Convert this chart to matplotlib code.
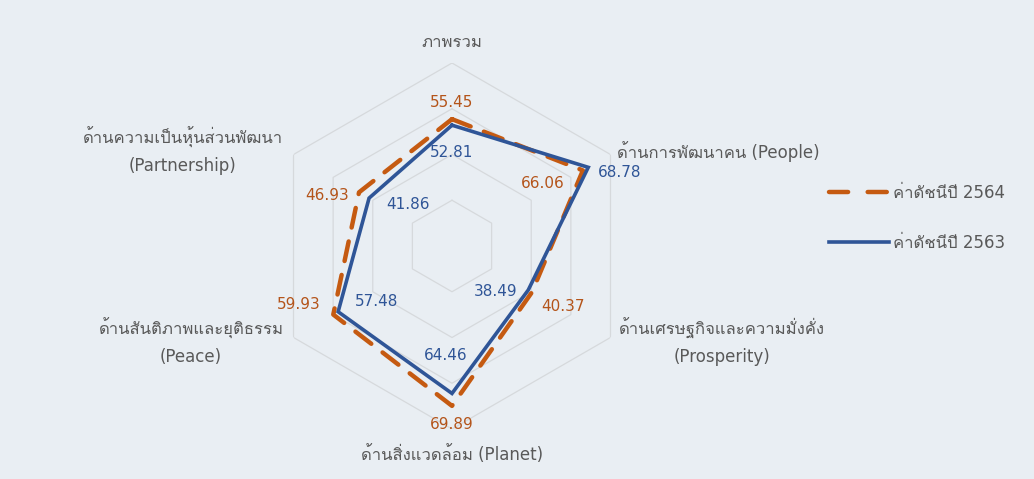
import matplotlib

matplotlib.use("Agg")
import matplotlib.pyplot as plt
import numpy as np
from matplotlib import font_manager
from matplotlib.ft2font import FT2Font
from matplotlib.lines import Line2D

# axis names, clockwise from the top
categories = [
    ("ภาพรวม", ""),
    ("ด้านการพัฒนาคน (People)", ""),
    ("ด้านเศรษฐกิจและความมั่งคั่ง", "(Prosperity)"),
    ("ด้านสิ่งแวดล้อม (Planet)", ""),
    ("ด้านสันติภาพและยุติธรรม", "(Peace)"),
    ("ด้านความเป็นหุ้นส่วนพัฒนา", "(Partnership)"),
]
values_2564 = [55.45, 66.06, 40.37, 69.89, 59.93, 46.93]
values_2563 = [52.81, 68.78, 38.49, 64.46, 57.48, 41.86]
series_labels = ["ค่าดัชนีปี 2564", "ค่าดัชนีปี 2563"]
grid_levels = [20, 40, 60, 80]


def find_thai_font():
    for f in font_manager.fontManager.ttflist:
        try:
            if 0x0E01 in FT2Font(f.fname).get_charmap():
                return f.name
        except Exception:
            continue
    return None


# Latin glyphs from DejaVu, Thai ones from whatever font has them
thai = find_thai_font()
plt.rcParams["font.family"] = ["DejaVu Sans"] + ([thai] if thai else [])

BG = "#e9eef3"
ORANGE = "#c55a11"
BLUE = "#2f5597"
GRID = "#d6d9dc"
TEXT = "#595959"

W, H = 1034, 479
fig = plt.figure(figsize=(W / 100, H / 100), dpi=100, facecolor=BG)

# polar axes centred at (452, 246) px with r=80 at 183 px
cx, cy, R = 452, 246, 183
ax = fig.add_axes(
    [(cx - R) / W, (H - cy - R) / H, 2 * R / W, 2 * R / H], projection="polar"
)
ax.set_facecolor("none")
ax.set_theta_offset(np.pi / 2)
ax.set_theta_direction(-1)
ax.set_ylim(0, 80)
ax.grid(False)
ax.spines["polar"].set_visible(False)
ax.set_xticks([])
ax.set_yticks([])

n = len(categories)
angles = np.linspace(0, 2 * np.pi, n, endpoint=False)
closed = np.append(angles, angles[0])

for lvl in grid_levels:
    ax.plot(closed, [lvl] * (n + 1), color=GRID, lw=0.9, zorder=1)

v64 = np.append(values_2564, values_2564[0])
v63 = np.append(values_2563, values_2563[0])
ax.plot(
    closed, v64, color=ORANGE, lw=3.2, dashes=(4.5, 3.2), zorder=3,
    dash_capstyle="round",
)
ax.plot(closed, v63, color=BLUE, lw=2.6, zorder=4, solid_joinstyle="miter")

# data label offsets in pixels (x right, y up)
off_64 = [(0, 17), (-40, -13), (31, -14), (0, -19), (-35, 10), (-32, -3)]
off_63 = [(0, -27), (31, -5), (-33, -1), (-6, 38), (38, 10), (39, -6)]
for a, v, o in zip(angles, values_2564, off_64):
    ax.annotate(
        f"{v:.2f}", (a, v), xytext=o, textcoords="offset pixels",
        ha="center", va="center", color="#b4541a", fontsize=11, zorder=5,
    )
for a, v, o in zip(angles, values_2563, off_63):
    ax.annotate(
        f"{v:.2f}", (a, v), xytext=o, textcoords="offset pixels",
        ha="center", va="center", color=BLUE, fontsize=11, zorder=5,
    )

# category labels (pixel positions of text centre)
label_pos = [
    (452, 42, "center"),
    (617, 152, "left"),
    (722, 328, "center"),
    (452, 455, "center"),
    (191, 328, "center"),
    (183, 137, "center"),
]
for (th, en), (x, y, ha) in zip(categories, label_pos):
    fig.text(x / W, 1 - y / H, th, ha=ha, va="center", color=TEXT, fontsize=12)
    if en:
        fig.text(x / W, 1 - (y + 29) / H, en, ha=ha, va="center", color=TEXT,
                 fontsize=12)

# legend keys: wider gap in the dashed sample so it reads as two dashes
handles = [
    Line2D([], [], color=ORANGE, lw=3.2, dashes=(4.3, 4.4), dash_capstyle="round"),
    Line2D([], [], color=BLUE, lw=2.6),
]
ax.legend(
    handles, series_labels,
    loc="upper left", bbox_to_anchor=(814 / W, 1 - 169 / H),
    bbox_transform=fig.transFigure, frameon=False, fontsize=12,
    handlelength=3.6, handletextpad=0.25, labelspacing=1.9, labelcolor=TEXT,
)

fig.savefig("out.png", dpi=100, facecolor=BG)
